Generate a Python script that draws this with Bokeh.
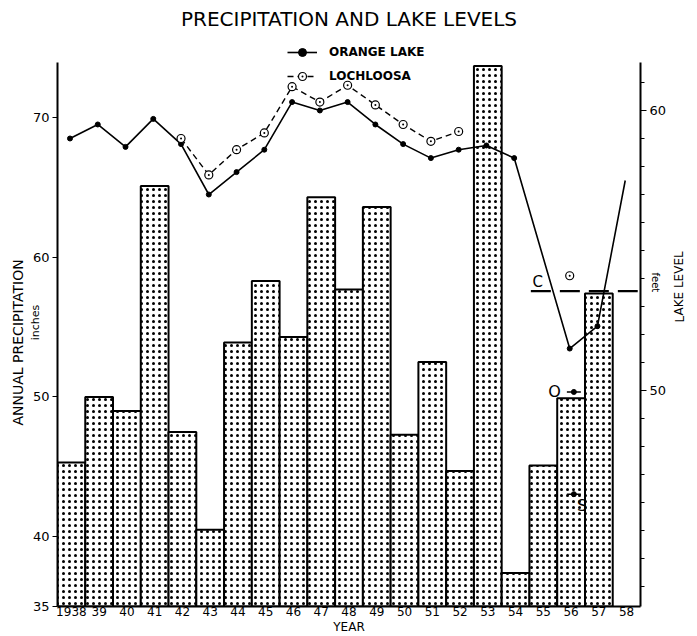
from bokeh.plotting import figure
from bokeh.models import LinearAxis, Range1d, FixedTicker, Label, Legend, LegendItem, Title
from bokeh.embed import file_html
from bokeh.resources import INLINE

FONT = "DejaVu Sans"

# ---- data ----
year_labels = ["1938", "39", "40", "41", "42", "43", "44", "45", "46", "47",
               "48", "49", "50", "51", "52", "53", "54", "55", "56", "57", "58"]
precip_years = list(range(1938, 1958))
precip_inches = [45.3, 50.0, 49.0, 65.1, 47.5, 40.5, 53.9, 58.3, 54.3, 64.3,
                 57.7, 63.6, 47.3, 52.5, 44.7, 73.7, 37.4, 45.1, 49.9, 57.4]

orange_years = [1938, 1939, 1940, 1941, 1942, 1943, 1944, 1945, 1946, 1947,
                1948, 1949, 1950, 1951, 1952, 1953, 1954, 1956, 1957, 1958]
orange_level = [59.0, 59.5, 58.7, 59.7, 58.8, 57.0, 57.8, 58.6, 60.3, 60.0,
                60.3, 59.5, 58.8, 58.3, 58.6, 58.75, 58.3, 51.5, 52.3, 57.5]
orange_marker_years = orange_years[:-1]
orange_marker_level = orange_level[:-1]

lochloosa_years = [1942, 1943, 1944, 1945, 1946, 1947, 1948, 1949, 1950, 1951, 1952]
lochloosa_level = [59.0, 57.7, 58.6, 59.2, 60.85, 60.3, 60.9, 60.2, 59.5, 58.9, 59.25]
lochloosa_1956_year = [1956]
lochloosa_1956_level = [54.1]

c_level = 53.55          # dashed "C" reference level
c_years = [1955.05, 1958.9]
o_point_year = [1956.6]
o_point_level = [49.95]
s_point_year = [1956.6]
s_point_level = [46.3]

precip_axis_ticks = [35, 40, 50, 60, 70]
lake_axis_ticks = [50, 60]
lake_minor_ticks = list(range(43, 62))

FIRST = 1938
PT_OFF = 0.45   # point position inside a year's slot
def slot_center(ys):
    return [y - FIRST + 0.5 for y in ys]
def slot_pt(ys):
    return [y - FIRST + PT_OFF for y in ys]

BLACK = "black"
p = figure(width=697, height=636, x_range=Range1d(0, 21), y_range=Range1d(35, 75.66),
           output_backend="svg", toolbar_location=None,
           min_border_left=57, min_border_right=57, min_border_top=38, min_border_bottom=30,
           background_fill_color="white", border_fill_color="white")
p.outline_line_color = None
p.grid.visible = False
p.extra_y_ranges = {"lake": Range1d(42.29, 62.57)}

p.title = Title(text="PRECIPITATION AND LAKE LEVELS", align="center", vertical_align="top",
                text_font=FONT, text_font_size="20px", text_font_style="normal",
                text_color=BLACK, standoff=12, offset=0)

# x axis
centers_all = slot_center(list(range(1938, 1959)))
p.xaxis.ticker = FixedTicker(ticks=centers_all)
p.xaxis.major_label_overrides = {c: l for c, l in zip(centers_all, year_labels)}
p.xaxis.major_tick_line_color = None
p.xaxis.major_tick_out = 0
p.xaxis.major_tick_in = 0
p.xaxis.minor_tick_line_color = None
p.xaxis.minor_tick_out = 0
p.xaxis.axis_line_width = 2
p.xaxis.axis_line_color = BLACK
p.xaxis.major_label_standoff = 0
p.xaxis.major_label_text_font = FONT
p.xaxis.major_label_text_font_size = "12px"
p.xaxis.major_label_text_color = BLACK
p.xaxis.axis_label = "YEAR"
p.xaxis.axis_label_text_font = FONT
p.xaxis.axis_label_text_font_size = "12px"
p.xaxis.axis_label_text_font_style = "normal"
p.xaxis.axis_label_text_color = BLACK
p.xaxis.axis_label_standoff = 1

# left axis (precipitation)
ly = p.yaxis[0]
ly.ticker = FixedTicker(ticks=precip_axis_ticks)
ly.bounds = (35, 73.94)
ly.minor_tick_line_color = None
ly.axis_line_width = 2
ly.axis_line_color = BLACK
ly.major_tick_out = 5
ly.major_tick_in = 0
ly.major_tick_line_color = BLACK
ly.major_label_text_font = FONT
ly.major_label_text_font_size = "13px"
ly.major_label_text_color = BLACK
ly.major_label_standoff = 3
ly.axis_label = "inches"
ly.axis_label_text_font = FONT
ly.axis_label_text_font_size = "11px"
ly.axis_label_text_font_style = "normal"
ly.axis_label_text_color = BLACK
ly.axis_label_standoff = -12

p.add_layout(Title(text="ANNUAL PRECIPITATION", align="left", offset=181, standoff=0,
                   text_font=FONT, text_font_size="14px", text_font_style="normal",
                   text_color=BLACK), "left")

# right axis (lake level)
ry = LinearAxis(y_range_name="lake", ticker=FixedTicker(ticks=lake_axis_ticks, minor_ticks=lake_minor_ticks),
                bounds=(42.29, 61.7))
ry.axis_line_width = 2
ry.axis_line_color = BLACK
ry.major_tick_out = 6
ry.major_tick_in = 0
ry.major_tick_line_color = BLACK
ry.minor_tick_out = 4
ry.minor_tick_in = 0
ry.minor_tick_line_color = BLACK
ry.major_label_text_font = FONT
ry.major_label_text_font_size = "13px"
ry.major_label_text_color = BLACK
ry.major_label_standoff = 3
p.add_layout(ry, "right")

ry_lake = LinearAxis(y_range_name="lake", ticker=FixedTicker(ticks=[]), axis_line_color=None,
                     major_tick_out=0, minor_tick_out=0, major_label_text_font_size="0px",
                     axis_label="LAKE LEVEL", axis_label_text_font=FONT,
                     axis_label_text_font_size="12px", axis_label_text_font_style="normal",
                     axis_label_text_color=BLACK, axis_label_standoff=10)
if "axis_label_orientation" in LinearAxis.properties():
    ry_lake.axis_label_orientation = 1.5708
p.add_layout(ry_lake, "right")

p.add_layout(Title(text="feet", align="left", offset=234, standoff=-94,
                   text_font=FONT, text_font_size="10px", text_font_style="normal",
                   text_color=BLACK), "right")

# bars
p.vbar(x=slot_center(precip_years), top=precip_inches, bottom=35, width=1,
       fill_color="white", line_color=BLACK, line_width=2,
       hatch_pattern="dot", hatch_color=BLACK, hatch_scale=6, hatch_weight=1.4)

# Orange Lake
ol = p.line(slot_pt(orange_years), orange_level, y_range_name="lake",
            line_color=BLACK, line_width=1.6)
om = p.scatter(slot_pt(orange_marker_years), orange_marker_level, y_range_name="lake",
               marker="circle", size=5, fill_color=BLACK, line_color=BLACK)

# Lochloosa
ll = p.line(slot_pt(lochloosa_years), lochloosa_level, y_range_name="lake",
            line_color=BLACK, line_width=1.4, line_dash="6 4")
lm = p.scatter(slot_pt(lochloosa_years), lochloosa_level, y_range_name="lake",
               marker="circle_dot", size=8, fill_color="white", line_color=BLACK, line_width=1.2)
p.scatter(slot_pt(lochloosa_1956_year), lochloosa_1956_level, y_range_name="lake",
          marker="circle_dot", size=8, fill_color="white", line_color=BLACK, line_width=1.2)

# C level
p.line([y - FIRST for y in c_years], [c_level, c_level], y_range_name="lake",
       line_color=BLACK, line_width=2.2, line_dash="20 9")
p.add_layout(Label(x=c_years[0] - FIRST + 0.25, y=c_level, y_range_name="lake",
                   text="C", text_font=FONT, text_font_size="15px", text_baseline="bottom",
                   text_align="center", text_color=BLACK))

# O and S points
for yrs, lv, lab, dx, dy in [(o_point_year, o_point_level, "O", -0.7, 0.0),
                             (s_point_year, s_point_level, "S", 0.3, -0.4)]:
    p.scatter([y - FIRST for y in yrs], lv, y_range_name="lake", marker="dash", size=14,
              line_color=BLACK, line_width=1.5)
    p.scatter([y - FIRST for y in yrs], lv, y_range_name="lake", marker="circle", size=5,
              fill_color=BLACK, line_color=BLACK)
    p.add_layout(Label(x=yrs[0] - FIRST + dx, y=lv[0] + dy, y_range_name="lake",
                       text=lab, text_font=FONT, text_font_size="16px", text_color=BLACK,
                       text_baseline="middle", text_align="center"))

# legend
legend = Legend(items=[LegendItem(label="ORANGE LAKE", renderers=[ol, om]),
                       LegendItem(label="LOCHLOOSA", renderers=[ll, lm])],
                location=(230, 520), orientation="vertical",
                label_text_font=FONT, label_text_font_size="12px", label_text_font_style="bold",
                label_text_color=BLACK, label_standoff=12,
                glyph_width=30, glyph_height=20, label_height=20, spacing=4,
                padding=0, margin=0, border_line_color=None, background_fill_alpha=0)
p.add_layout(legend, "center")

open("out.html", "w").write(file_html(p, INLINE))
